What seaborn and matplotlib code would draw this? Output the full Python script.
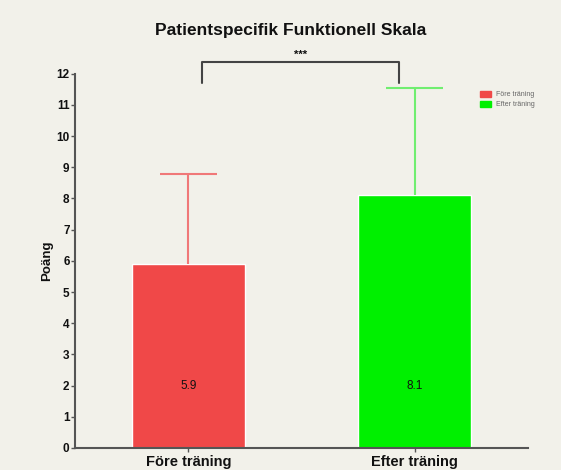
import pandas as pd
import matplotlib
matplotlib.use("Agg")
import matplotlib.pyplot as plt
import seaborn as sns
import numpy as np

# data
groups = ["Före träning", "Efter träning"]
means = [5.9, 8.1]
sds = [2.9, 3.45]
bar_colors = ["#f04848", "#00f000"]
err_colors = ["#f07878", "#70ee70"]

df = pd.DataFrame({"grupp": groups, "poang": means})

sns.set_style("ticks")
plt.rcParams["font.family"] = ["Liberation Sans", "DejaVu Sans"]
plt.rcParams["text.color"] = "#111111"
plt.rcParams["xtick.labelcolor"] = "#111111"
plt.rcParams["ytick.labelcolor"] = "#111111"
plt.rcParams["axes.labelcolor"] = "#111111"
bg = "#f2f1ea"

fig = plt.figure(figsize=(5.61, 4.70), dpi=100, facecolor=bg)
ax = fig.add_axes([0.134, 0.047, 0.807, 0.796])
ax.set_facecolor(bg)

sns.barplot(data=df, x="grupp", y="poang", hue="grupp", palette=bar_colors,
            width=0.5, errorbar=None, legend=False, ax=ax, saturation=1)

# upper error bars only (line + top cap)
for i in range(len(groups)):
    top = means[i] + sds[i]
    ax.vlines(i, means[i], top, color=err_colors[i], lw=1.5, zorder=1)
    ax.hlines(top, i - 0.125, i + 0.125, color=err_colors[i], lw=1.5)
    ax.text(i, 2.0, f"{means[i]:.1f}", ha="center", va="center", fontsize=8.5)

ax.set_xlim(-0.5, 1.5)
ax.set_ylim(0, 12)
ax.set_yticks(range(0, 13))
sns.despine(ax=ax)
for s in ["left", "bottom"]:
    ax.spines[s].set_color("#555555")
    ax.spines[s].set_linewidth(1.5)
ax.tick_params(axis="y", length=3, width=1, color="#555555", labelsize=8.5, pad=1)
ax.tick_params(axis="x", length=3, width=1, color="#555555", labelsize=10.5, pad=2)
for lab in ax.get_yticklabels() + ax.get_xticklabels():
    lab.set_fontweight("bold")
ax.set_xlabel("")
ax.set_ylabel("Poäng", fontsize=9.5, fontweight="bold", labelpad=2)
ax.set_title("Patientspecifik Funktionell Skala", fontsize=12.5, fontweight="bold",
             pad=28, x=0.475)

# significance bracket
ax.plot([0.06, 0.06, 0.93, 0.93], [11.7, 12.37, 12.37, 11.7], color="#444444",
        lw=1.5, clip_on=False)
ax.text(0.495, 12.45, "***", ha="center", va="bottom", fontsize=8, fontweight="bold")

# legend
handles = [plt.Rectangle((0, 0), 1, 1, color=c) for c in bar_colors]
fig.legend(handles, groups, loc="upper left", bbox_to_anchor=(0.845, 0.82),
           frameon=False, fontsize=5, labelcolor="#666666", handlelength=1.6,
           handleheight=0.9, handletextpad=0.6, labelspacing=0.4)

plt.savefig("out.png", dpi=100, facecolor=bg)
